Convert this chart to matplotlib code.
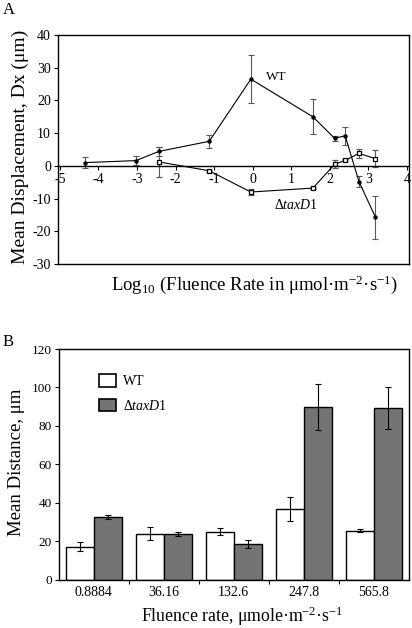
import matplotlib
matplotlib.use("Agg")
import matplotlib.pyplot as plt
from matplotlib.patches import Patch

# ── data: panel A (displacement vs log10 fluence rate) ──────────
wt_logf = [-4.35, -3.03, -2.44, -1.13, -0.05, 1.558, 2.123, 2.394, 2.753, 3.18]
wt_disp = [1.0, 1.6, 4.4, 7.5, 26.5, 15.0, 8.4, 9.2, -4.8, -15.7]
wt_err = [1.8, 1.4, 1.4, 1.9, 7.3, 5.3, 0.8, 2.8, 1.8, 6.6]

tax_logf = [-2.43, -1.13, -0.05, 1.558, 2.123, 2.394, 2.753, 3.18]
tax_disp = [1.2, -1.5, -8.0, -6.8, 0.5, 1.7, 3.8, 2.2]
tax_err = [4.6, 0.3, 0.8, 0.3, 1.3, 0.3, 1.4, 2.5]

# ── data: panel B (mean distance per fluence rate) ──────────────
fluence_labels = ["0.8884", "36.16", "132.6", "247.8", "565.8"]
wt_dist = [17.1, 23.9, 24.8, 36.8, 25.5]
wt_dist_err = [2.3, 3.3, 1.8, 6.1, 1.0]
tax_dist = [32.4, 23.5, 18.5, 89.8, 89.5]
tax_dist_err = [1.1, 1.0, 2.0, 11.8, 10.9]

plt.rcParams.update({
    "font.family": ["Liberation Serif", "DejaVu Serif"],
    "mathtext.fontset": "custom",
    "mathtext.rm": "Liberation Serif",
    "mathtext.it": "Liberation Serif:italic",
    "axes.linewidth": 1.0,
    "axes.unicode_minus": False,
})

GREY = "#747474"
W, H = 412, 628
fig = plt.figure(figsize=(W / 100, H / 100), dpi=100)
fx = lambda px: px / W
fy = lambda px: 1 - px / H

# ════════════════════════ Panel A ════════════════════════
axA = fig.add_axes([fx(58), fy(264), fx(409) - fx(58), fy(35) - fy(264)])
axA.errorbar(wt_logf, wt_disp, yerr=wt_err, fmt="o-", color="black", ms=2.2,
             lw=0.8, ecolor="0.35", elinewidth=0.8, capsize=2, capthick=0.8)
axA.errorbar(tax_logf, tax_disp, yerr=tax_err, fmt="s-", color="black", ms=3.5,
             mfc="white", mew=0.9, lw=0.8, ecolor="0.35", elinewidth=0.8,
             capsize=2, capthick=0.8)
axA.set_xlim(-5.05, 4.05)
axA.set_ylim(-30, 40)
axA.set_yticks(range(-30, 41, 10))
axA.set_xticks(range(-5, 5))
axA.spines["bottom"].set_position(("data", 0))
axA.plot([0, 1], [0, 0], transform=axA.transAxes, color="black", lw=1.0, clip_on=False)
axA.tick_params(axis="both", direction="out", length=3, width=0.8, labelsize=10, pad=2)
axA.text(0.62, 27.1, "WT", ha="center", va="center", fontsize=9.5)
axA.text(1.11, -12.1, r"$\Delta\mathit{taxD1}$", ha="center", va="center", fontsize=10)

fig.text(fx(20), fy(147), "Mean Displacement, Dx (μm)", rotation=90,
         ha="center", va="center", fontsize=14)
fig.text(fx(255), fy(285), "Log$_{10}$ (Fluence Rate in μmol·m$^{-2}$·s$^{-1}$)",
         ha="center", va="center", fontsize=13.5)
fig.text(fx(3), fy(10), "A", ha="left", va="center", fontsize=12)

# ════════════════════════ Panel B ════════════════════════
axB = fig.add_axes([fx(58.7), fy(579.5), fx(408.7) - fx(58.7), fy(349) - fy(579.5)])
idx = list(range(len(fluence_labels)))
axB.bar([i - 0.2 for i in idx], wt_dist, width=0.4, color="white", edgecolor="black",
        lw=1.0, yerr=wt_dist_err, error_kw=dict(ecolor="black", elinewidth=0.8,
                                                capsize=2, capthick=0.8))
axB.bar([i + 0.2 for i in idx], tax_dist, width=0.4, color=GREY, edgecolor="black",
        lw=1.0, yerr=tax_dist_err, error_kw=dict(ecolor="black", elinewidth=0.8,
                                                 capsize=2, capthick=0.8))
axB.set_xlim(-0.5, 4.5)
axB.set_ylim(0, 120)
axB.set_yticks(range(0, 121, 20))
axB.set_xticks(idx)
axB.set_xticklabels(fluence_labels)
axB.set_xticks([0.5, 1.5, 2.5, 3.5], minor=True)
axB.tick_params(axis="x", which="major", length=0, labelsize=10, pad=5)
axB.tick_params(axis="x", which="minor", direction="out", length=3, width=0.8)
axB.tick_params(axis="y", direction="out", length=3, width=0.8, labelsize=9.5, pad=2)

handles = [Patch(facecolor="white", edgecolor="black", lw=1.2),
           Patch(facecolor=GREY, edgecolor="black", lw=1.2)]
axB.legend(handles, ["WT", r"$\Delta\mathit{taxD1}$"], loc="upper left",
           bbox_to_anchor=(0.115, 0.89), frameon=False, fontsize=10,
           handlelength=1.2, handleheight=1.0, labelspacing=0.75,
           handletextpad=0.5, borderpad=0, borderaxespad=0)

fig.text(fx(17), fy(462), "Mean Distance, μm", rotation=90,
         ha="center", va="center", fontsize=13.5)
fig.text(fx(242), fy(616), "Fluence rate, μmole·m$^{-2}$·s$^{-1}$",
         ha="center", va="center", fontsize=12.8)
fig.text(fx(3), fy(342), "B", ha="left", va="center", fontsize=12)

fig.savefig("out.png", dpi=100)
